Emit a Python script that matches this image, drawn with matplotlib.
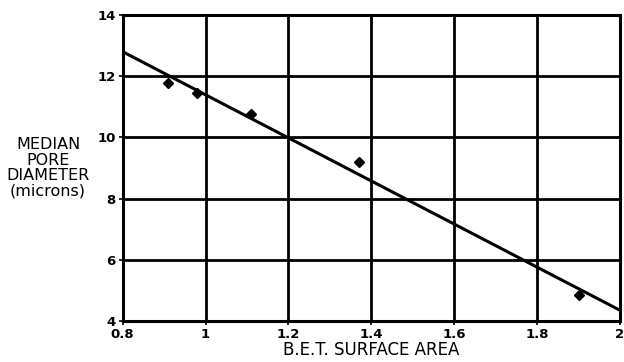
import matplotlib
matplotlib.use("Agg")
import matplotlib.pyplot as plt

# B.E.T. surface area vs median pore diameter
SURFACE_AREA = [0.91, 0.98, 1.11, 1.37, 1.90]
PORE_DIAM = [11.77, 11.44, 10.77, 9.21, 4.85]

# fitted line at the axis ends
FIT_X = [0.8, 2.0]
FIT_Y = [12.8, 4.35]

X_TICKS = [0.8, 1.0, 1.2, 1.4, 1.6, 1.8, 2.0]
X_LABELS = ["0.8", "1", "1.2", "1.4", "1.6", "1.8", "2"]
Y_TICKS = [4, 6, 8, 10, 12, 14]

plt.rcParams["font.family"] = ["DejaVu Sans"]

fig = plt.figure(figsize=(6.24, 3.62), dpi=100)
ax = fig.add_axes([0.1966, 0.1133, 0.7970, 0.8453])

ax.plot(FIT_X, FIT_Y, color="black", lw=2.2, solid_capstyle="butt", zorder=3)
ax.plot(SURFACE_AREA, PORE_DIAM, "D", color="black", ms=5, zorder=4)

ax.set_xlim(0.8, 2.0)
ax.set_ylim(4, 14)
ax.set_xticks(X_TICKS)
ax.set_xticklabels(X_LABELS)
ax.set_yticks(Y_TICKS)
ax.grid(True, color="black", lw=2.0)
ax.set_axisbelow(True)
for sp in ax.spines.values():
    sp.set_linewidth(2.2)

ax.tick_params(axis="both", direction="out", length=3, width=1.2,
               labelsize=9.5, pad=2)
for lbl in ax.get_xticklabels() + ax.get_yticklabels():
    lbl.set_fontweight("bold")

ax.set_xlabel("B.E.T. SURFACE AREA", fontsize=12, labelpad=0)
fig.text(0.077, 0.536, "MEDIAN\nPORE\nDIAMETER\n(microns)", ha="center",
         va="center", fontsize=11.5, linespacing=1.05)

fig.savefig("out.png", dpi=100)
